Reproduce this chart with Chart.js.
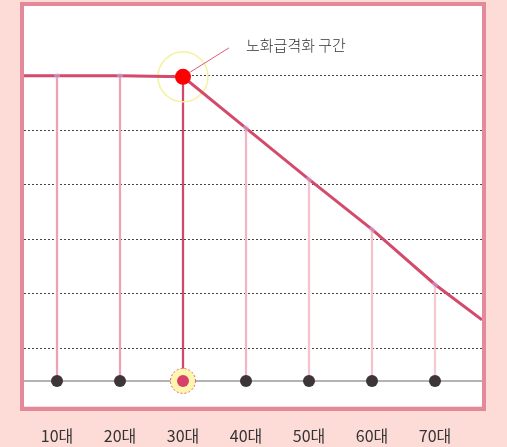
<!DOCTYPE html>
<html>
<head>
<meta charset="utf-8">
<script src="https://cdn.jsdelivr.net/npm/chart.js@4/dist/chart.umd.min.js"></script>
<style>
  html, body { margin: 0; padding: 0; background: #fddcd8; }
  canvas { display: block; }
</style>
</head>
<body>
<canvas id="aging-chart" width="507" height="447"></canvas>
<script>
// Data
var ages = ['10대', '20대', '30대', '40대', '50대', '60대', '70대'];
var agePos = [1, 2, 3, 4, 5, 6, 7];
var levels = [6.0, 6.0, 5.98, 5.04, 4.1, 3.18, 2.17];
var startLevel = 6.0;
var endLevel = 1.52;
var baseLevel = 0.4;
var gridLevels = [1, 2, 3, 4, 5, 6];
var peakIndex = 2;
var noteText = '노화급격화 구간';

var X_MIN = 0.476, X_MAX = 7.746;
var Y_MIN = -0.06, Y_MAX = 7.28;

var font = "'Noto Sans CJK KR', 'Noto Sans', sans-serif";

// Built from the arrays above
var curvePoints = [{x: X_MIN, y: startLevel}]
  .concat(agePos.map(function (x, i) { return {x: x, y: levels[i]}; }))
  .concat([{x: X_MAX, y: endLevel}]);

var stemPoints = agePos.map(function (x, i) { return {x: x, y: [baseLevel, levels[i]]}; });
var dotPoints = agePos.map(function (x) { return {x: x, y: baseLevel}; });
var baseLine = [{x: X_MIN, y: baseLevel}, {x: X_MAX, y: baseLevel}];

var stemColors = ['#eba3b3', '#eba3b3', '#d2486a', '#f2b6c3', '#f5c2cd', '#f5c2cd', '#f5c8d2'];

// Box around the plot + notes
var boxPlugin = {
  id: 'box',
  beforeDraw: function (chart) {
    var a = chart.chartArea, ctx = chart.ctx;
    ctx.save();
    ctx.fillStyle = '#ffffff';
    ctx.fillRect(a.left, a.top, a.right - a.left, a.bottom - a.top);
    ctx.restore();
  },
  afterDatasetsDraw: function (chart) {
    var ctx = chart.ctx, xs = chart.scales.x, ys = chart.scales.y;
    // dashed ring on the 30s dot
    var bx = xs.getPixelForValue(agePos[peakIndex]);
    var by = ys.getPixelForValue(baseLevel);
    ctx.save();
    ctx.strokeStyle = '#e0607c';
    ctx.lineWidth = 1;
    ctx.setLineDash([2, 2]);
    ctx.beginPath();
    ctx.arc(bx, by, 12.5, 0, Math.PI * 2);
    ctx.stroke();
    ctx.restore();

    // leader line + note
    var px = xs.getPixelForValue(agePos[peakIndex]);
    var py = ys.getPixelForValue(levels[peakIndex]);
    ctx.save();
    ctx.strokeStyle = '#d8607a';
    ctx.lineWidth = 1;
    ctx.beginPath();
    ctx.moveTo(px + 6, py - 4);
    ctx.lineTo(px + 46, py - 29);
    ctx.stroke();
    ctx.fillStyle = '#333';
    ctx.font = '300 15px ' + font;
    ctx.textBaseline = 'middle';
    ctx.fillText(noteText, px + 63, py - 32);
    ctx.restore();
  },
  afterDraw: function (chart) {
    var a = chart.chartArea, ctx = chart.ctx;
    ctx.save();
    ctx.strokeStyle = '#e4899a';
    ctx.lineWidth = 4;
    ctx.strokeRect(a.left - 2, a.top - 2, a.right - a.left + 4, a.bottom - a.top + 5);
    ctx.restore();
  }
};

var agingChart = new Chart(document.getElementById('aging-chart'), {
  data: {
    datasets: [
      {
        type: 'line',
        data: curvePoints,
        borderColor: '#d34a6b',
        borderWidth: 3,
        tension: 0,
        pointRadius: function (c) {
          if (c.dataIndex === 0 || c.dataIndex === curvePoints.length - 1) return 0;
          return c.dataIndex === peakIndex + 1 ? 8 : 3;
        },
        pointBackgroundColor: function (c) {
          return c.dataIndex === peakIndex + 1 ? '#ff0000' : 'rgba(205,195,245,0.45)';
        },
        pointBorderWidth: 0,
        order: 0
      },
      {
        type: 'scatter',
        data: [{x: agePos[peakIndex], y: levels[peakIndex]}],
        pointRadius: 25,
        pointBackgroundColor: 'rgba(0,0,0,0)',
        pointBorderColor: '#f5f29c',
        pointBorderWidth: 1.5,
        order: 1
      },
      {
        type: 'scatter',
        data: dotPoints,
        pointRadius: 6,
        pointBackgroundColor: function (c) { return c.dataIndex === peakIndex ? '#d8406a' : '#3d3538'; },
        pointBorderWidth: 0,
        order: 1
      },
      {
        type: 'scatter',
        data: [{x: agePos[peakIndex], y: baseLevel}],
        pointRadius: 12.5,
        pointBackgroundColor: '#fdf6ae',
        pointBorderWidth: 0,
        order: 2
      },
      {
        type: 'bar',
        data: stemPoints,
        backgroundColor: stemColors,
        barThickness: 1.6,
        order: 3
      },
      {
        type: 'line',
        data: baseLine,
        borderColor: '#9a9a9a',
        borderWidth: 1.6,
        pointRadius: 0,
        order: 4
      }
    ]
  },
  options: {
    responsive: false,
    animation: false,
    layout: { autoPadding: false, padding: { left: 24, right: 25, top: 6, bottom: 0 } },
    plugins: { legend: { display: false }, tooltip: { enabled: false } },
    scales: {
      x: {
        type: 'linear',
        min: X_MIN,
        max: X_MAX,
        offset: false,
        afterBuildTicks: function (s) { s.ticks = agePos.map(function (v) { return {value: v}; }); },
        afterFit: function (s) { s.height = 41; },
        ticks: {
          autoSkip: false,
          maxRotation: 0,
          padding: 20,
          color: '#333',
          font: { family: font, size: 16 },
          callback: function (v) { return ages[agePos.indexOf(v)]; }
        },
        grid: { display: false, drawTicks: false },
        border: { display: false }
      },
      y: {
        type: 'linear',
        min: Y_MIN,
        max: Y_MAX,
        afterBuildTicks: function (s) { s.ticks = gridLevels.map(function (v) { return {value: v}; }); },
        ticks: { display: false },
        grid: { color: '#444', lineWidth: 1, drawTicks: false },
        border: { display: false, dash: [2, 2] }
      }
    }
  },
  plugins: [boxPlugin]
});
</script>
</body>
</html>
